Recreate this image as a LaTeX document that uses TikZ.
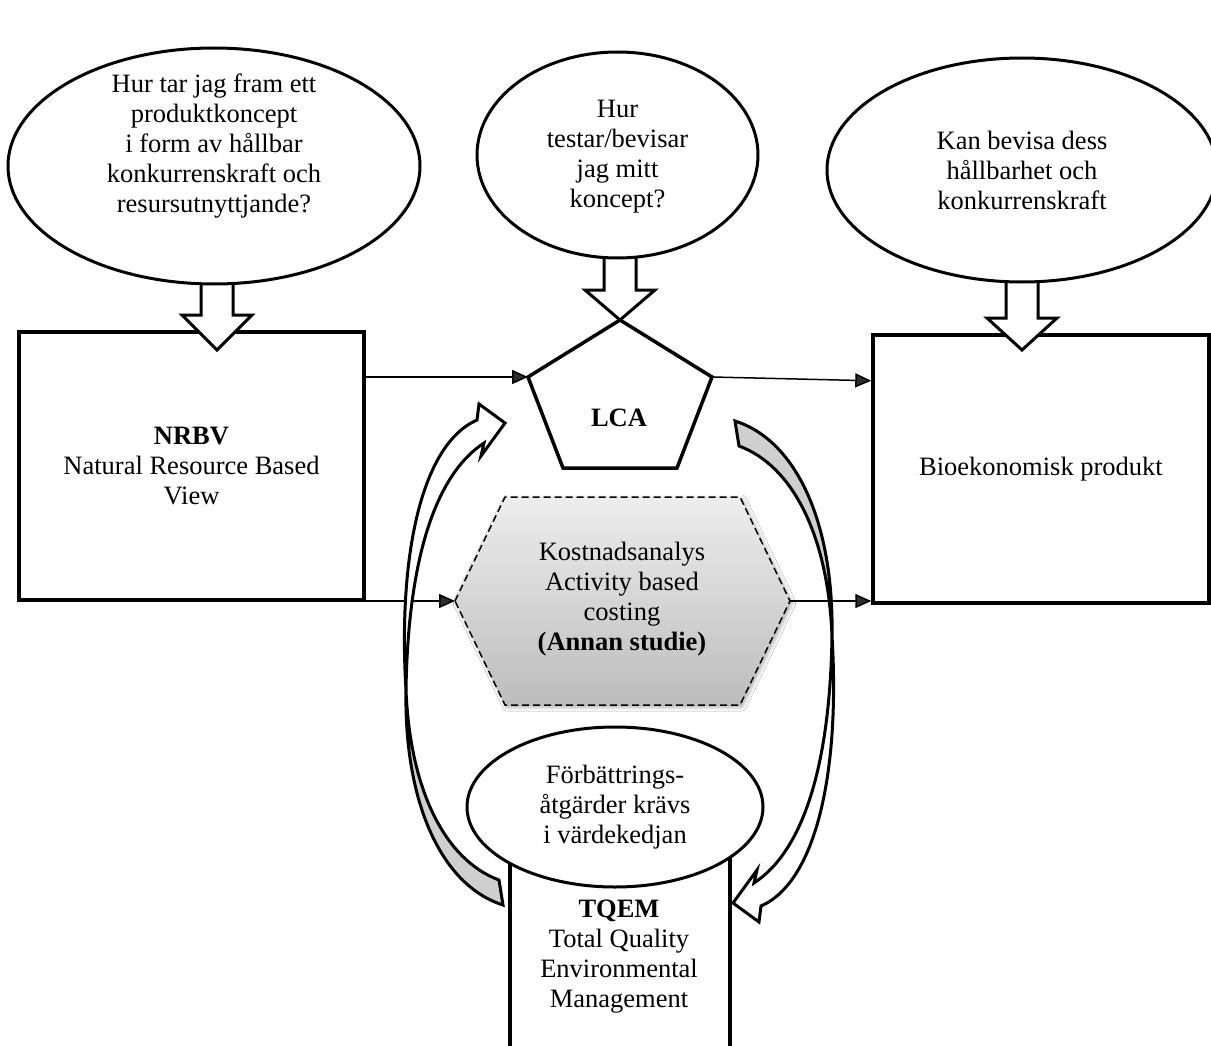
\documentclass[tikz,border=0pt]{standalone}
\usepackage{fontspec}
\setmainfont{Liberation Serif}
\usetikzlibrary{shapes.geometric,arrows.meta,calc,shadows.blur}

\tikzset{
  % hollow downward block arrow; #1 = head length, tip at the pic origin
  pics/downblock/.style={code={
    \draw[blockarr] (-16,-95) -- (16,-95) -- (16,-#1) -- (35,-#1) -- (0,0)
      -- (-35,-#1) -- (-16,-#1) -- cycle;
  }},
  % twisted curved band arrow, drawn around its centre of symmetry
  pics/twistarrow/.style={code={
    \path[fill=gray!38] (-213,27) .. controls (-209,127) and (-174,197) .. (-120,217)
      -- (-116,242) .. controls (-179,222) and (-215,137) .. (-213,27) -- cycle;
    \draw[curvearr] (-213,27) .. controls (-209,127) and (-174,197) .. (-120,217)
      -- (-116,242) .. controls (-179,222) and (-215,137) .. (-213,27);
    \draw[curvearr, fill=white] (-142,-243) .. controls (-199,-218) and (-221,-103) .. (-213,27)
      .. controls (-211,-103) and (-184,-188) .. (-135,-220)
      -- (-138,-207) -- (-114,-240) -- (-140,-259) -- cycle;
  }}
}

\begin{document}
\begin{tikzpicture}[x=1pt,y=-1pt,
  txt/.style={font=\fontsize{26.5}{30}\selectfont, align=center, inner sep=0pt},
  bubble/.style={ellipse, draw, line width=3pt, fill=white, inner sep=0pt},
  panel/.style={rectangle, draw, line width=3.5pt, fill=white, inner sep=0pt},
  conn/.style={line width=1.5pt, -{Triangle[length=16pt,width=14pt]}},
  blockarr/.style={draw, line width=3pt, fill=white, line join=miter},
  curvearr/.style={draw, line width=3pt, line join=miter}
]
\useasboundingbox (0,0) rectangle (1211,1046);
\fill[white] (0,0) rectangle (1211,1046);
\clip (0,0) rectangle (1211,1046);

% main boxes
\node[panel, txt, minimum width=345pt, minimum height=268pt] (nrbv) at (191.5,466)
  {\textbf{NRBV}\\Natural Resource Based\\View};
\node[panel, txt, minimum width=336pt, minimum height=268pt] (bio) at (1041,469)
  {Bioekonomisk produkt};
\node[panel, minimum width=220pt, minimum height=300pt, anchor=north] (tqem) at (620,800) {};
\node[txt] (tqemtext) at (619,957)
  {\textbf{TQEM}\\Total Quality\\Environmental\\Management};

% LCA pentagon
\coordinate (lcaT) at (620,320);
\coordinate (lcaL) at (528,377);
\coordinate (lcaR) at (712,377);
\coordinate (lcaBL) at (563,468);
\coordinate (lcaBR) at (677,468);
\draw[line width=3.5pt, fill=white, line join=miter]
  (lcaT) -- (lcaR) -- (lcaBR) -- (lcaBL) -- (lcaL) -- cycle;
\node[txt] (lca) at (619,418) {\textbf{LCA}};

% cost analysis hexagon
\coordinate (hexL) at (455,601);
\coordinate (hexTL) at (505,497);
\coordinate (hexTR) at (740,497);
\coordinate (hexR) at (790,601);
\coordinate (hexBR) at (740,705);
\coordinate (hexBL) at (505,705);
\shade[top color=gray!14, bottom color=gray!52,
  blur shadow={shadow xshift=2pt, shadow yshift=-2pt, shadow blur radius=4pt, shadow opacity=35}]
  (hexL) -- (hexTL) -- (hexTR) -- (hexR) -- (hexBR) -- (hexBL) -- cycle;
\draw[line width=1.5pt, dash pattern=on 7pt off 4pt]
  (hexL) -- (hexTL) -- (hexTR) -- (hexR) -- (hexBR) -- (hexBL) -- cycle;
\node[txt] (cost) at (622,599)
  {Kostnadsanalys\\Activity based\\costing\\\textbf{(Annan studie)}};

% connectors
\draw[conn] (nrbv.east |- lcaL) -- (lcaL);
\draw[conn] (lcaR) -- ($(bio.north west)!0.175!(bio.south west)$);
\draw[conn] (nrbv.east |- hexL) -- (hexL);
\draw[conn] (hexR) -- (bio.west |- hexR);

% block arrows from the questions
\pic (ba1) at (217,350) {downblock=35};
\pic (ba2) at (620,320) {downblock=30};
\pic (ba3) at (1022,350) {downblock=32};

% question bubbles
\node[bubble, minimum width=412pt, minimum height=236pt] (q1) at (214,166) {};
\node[txt] (q1t) at (214,146)
  {Hur tar jag fram ett\\produktkoncept\\i form av hållbar\\konkurrenskraft och\\resursutnyttjande?};
\node[bubble, minimum width=281pt, minimum height=206pt] (q2) at (617.5,155) {};
\node[txt] (q2t) at (617.5,157) {Hur\\testar/bevisar\\jag mitt\\koncept?};
\node[bubble, minimum width=390pt, minimum height=224pt] (q3) at (1022,170) {};
\node[txt] (q3t) at (1022,170) {Kan bevisa dess\\hållbarhet och\\konkurrenskraft};

% improvement cycle arrows
\pic (cyc1) at (619,663) {twistarrow};
\pic[rotate=180] (cyc2) at (619,663) {twistarrow};

% improvement bubble over the TQEM box
\node[bubble, txt, minimum width=296pt, minimum height=160pt] (fix) at (615,807)
  {Förbättrings-\\åtgärder krävs\\i värdekedjan};
\end{tikzpicture}
\end{document}
